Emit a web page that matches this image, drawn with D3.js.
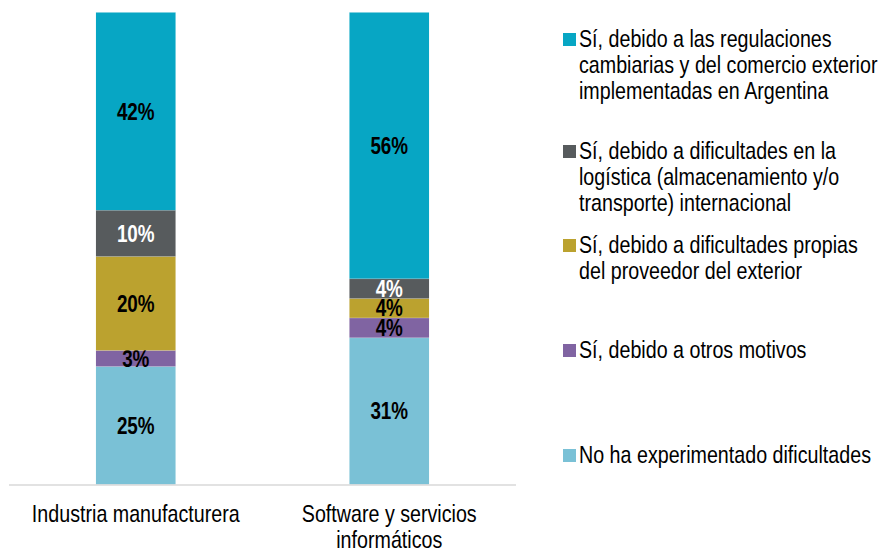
<!DOCTYPE html>
<html lang="es"><head>
<meta charset="utf-8">
<title>Dificultades</title>
<script src="https://cdn.jsdelivr.net/npm/d3@7"></script>
<style>
body { margin: 0; background: #fff; }
text { font-family: "Liberation Sans", Arial, sans-serif; }
</style>
</head>
<body>
<script type="text/javascript">

// data
var categories = ["Industria manufacturera", "Software y servicios informáticos"];
var seriesNames = [
    "No ha experimentado dificultades",
    "Sí, debido a otros motivos",
    "Sí, debido a dificultades propias del proveedor del exterior",
    "Sí, debido a dificultades en la logística (almacenamiento y/o transporte) internacional",
    "Sí, debido a las regulaciones cambiarias y del comercio exterior implementadas en Argentina"
];
var industriaValues = [25.0, 3.4, 19.9, 9.8, 41.9];
var softwareValues = [31.1, 4.2, 4.1, 4.2, 56.4];
var seriesColors = ["#7AC1D6", "#8064A2", "#BBA22F", "#575B5D", "#07A6C4"];
var labelColors = ["#000", "#000", "#000", "#fff", "#000"];

// legend text broken into lines as in the original, top item first
var legendLines = [
    ["Sí, debido a las regulaciones", "cambiarias y del comercio exterior", "implementadas en Argentina"],
    ["Sí, debido a dificultades en la", "logística (almacenamiento y/o", "transporte) internacional"],
    ["Sí, debido a dificultades propias", "del proveedor del exterior"],
    ["Sí, debido a otros motivos"],
    ["No ha experimentado dificultades"]
];
var categoryLines = [["Industria manufacturera"], ["Software y servicios", "informáticos"]];

var width = 880;
var height = 551;
var narrow = 0.82; // squeeze to look like Arial Narrow

var svg = d3.select("body").append("svg")
            .attr("width", width)
            .attr("height", height);

function place(px, py) {
    return "translate(" + px + "," + py + ") scale(" + narrow + ",1)";
}

var x = d3.scaleBand()
            .domain(categories)
            .range([9, 516]);

var barWidth = x.bandwidth() * 0.314;

var y = d3.scaleLinear()
            .domain([0, 100])
            .range([484.5, 12.3]);

var rows = categories.map(function(c, i) {
    var vals = i === 0 ? industriaValues : softwareValues;
    var r = { category: c };
    seriesNames.forEach(function(s, j) { r[s] = vals[j]; });
    return r;
});

var stacked = d3.stack().keys(seriesNames)(rows);

var layers = svg.selectAll("g.layer")
            .data(stacked)
            .enter()
            .append("g")
            .attr("class", "layer")
            .attr("fill", function(d, i) { return seriesColors[i]; });

layers.selectAll("rect")
    .data(function(d) { return d; })
    .enter()
    .append("rect")
    .attr("x", function(d) { return x(d.data.category) + (x.bandwidth() - barWidth) / 2; })
    .attr("width", barWidth)
    .attr("y", function(d) { return y(d[1]); })
    .attr("height", function(d) { return y(d[0]) - y(d[1]); });

// faint separators between segments
layers.selectAll("line")
    .data(function(d) { return d; })
    .enter()
    .append("line")
    .attr("x1", function(d) { return x(d.data.category) + (x.bandwidth() - barWidth) / 2; })
    .attr("x2", function(d) { return x(d.data.category) + (x.bandwidth() + barWidth) / 2; })
    .attr("y1", function(d) { return y(d[1]); })
    .attr("y2", function(d) { return y(d[1]); })
    .attr("stroke", "#ffffff")
    .attr("stroke-opacity", 0.35)
    .attr("stroke-width", 1);

layers.each(function(layer, i) {
    d3.select(this).selectAll("text")
        .data(layer)
        .enter()
        .append("text")
        .attr("transform", function(d) {
            return place(x(d.data.category) + x.bandwidth() / 2, (y(d[0]) + y(d[1])) / 2);
        })
        .attr("dy", "0.36em")
        .attr("text-anchor", "middle")
        .attr("font-size", "23px")
        .attr("font-weight", "bold")
        .attr("fill", labelColors[i])
        .text(function(d) { return Math.round(d[1] - d[0]) + "%"; });
});

// axis line
svg.append("line")
    .attr("x1", x.range()[0])
    .attr("x2", x.range()[1])
    .attr("y1", y(0) + 0.5)
    .attr("y2", y(0) + 0.5)
    .attr("stroke", "#d9d9d9")
    .attr("stroke-width", 1.5);

// category labels
categoryLines.forEach(function(lines, i) {
    var t = svg.append("text")
        .attr("transform", place(x(categories[i]) + x.bandwidth() / 2, 522))
        .attr("text-anchor", "middle")
        .attr("font-size", "24px")
        .attr("fill", "#000");
    lines.forEach(function(l, k) {
        t.append("tspan")
            .attr("x", 0)
            .attr("y", k * 26)
            .text(l);
    });
});

// legend
var legendBaselines = [47, 159, 253, 358, 463];
legendLines.forEach(function(lines, i) {
    var colorIndex = seriesColors.length - 1 - i;
    var g = svg.append("g");
    g.append("rect")
        .attr("x", 563)
        .attr("y", legendBaselines[i] - 14)
        .attr("width", 13)
        .attr("height", 13)
        .attr("fill", seriesColors[colorIndex]);
    var t = g.append("text")
        .attr("transform", place(579, legendBaselines[i]))
        .attr("font-size", "24px")
        .attr("fill", "#000");
    lines.forEach(function(l, k) {
        t.append("tspan")
            .attr("x", 0)
            .attr("y", k * 26)
            .text(l);
    });
});

</script>
</body></html>
